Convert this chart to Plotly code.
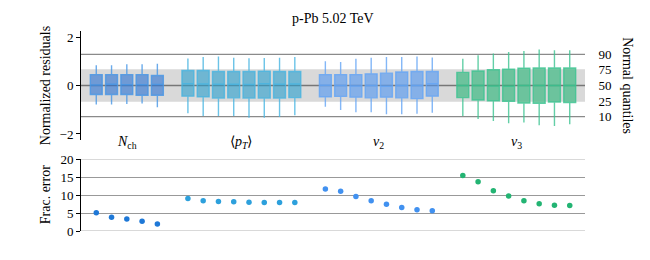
import plotly.graph_objects as go

# ---------------- data ----------------
group_names = ["Nch", "pT", "v2", "v3"]
group_labels = ["<i>N</i><sub>ch</sub>", "⟨<i>p</i><sub><i>T</i></sub>⟩",
                "<i>v</i><sub>2</sub>", "<i>v</i><sub>3</sub>"]
group_pos = [[0, 1, 2, 3, 4],
             [6, 7, 8, 9, 10, 11, 12, 13],
             [15, 16, 17, 18, 19, 20, 21, 22],
             [24, 25, 26, 27, 28, 29, 30, 31]]

nch_q1 = [-0.37, -0.37, -0.37, -0.40, -0.40]
nch_med = [0.02, 0.05, 0.03, 0.03, 0.04]
nch_q3 = [0.45, 0.45, 0.45, 0.45, 0.41]
nch_lo = [-0.78, -0.78, -0.76, -0.74, -0.90]
nch_hi = [0.84, 0.84, 0.88, 0.88, 0.90]

pt_q1 = [-0.44, -0.47, -0.52, -0.51, -0.52, -0.52, -0.52, -0.50]
pt_med = [0.07, 0.06, 0.05, 0.05, 0.04, 0.07, 0.05, 0.06]
pt_q3 = [0.62, 0.62, 0.58, 0.58, 0.58, 0.59, 0.58, 0.58]
pt_lo = [-1.15, -1.26, -1.26, -1.26, -1.33, -1.33, -1.30, -1.23]
pt_hi = [1.11, 1.18, 1.20, 1.15, 1.13, 1.14, 1.15, 1.18]

v2_q1 = [-0.47, -0.45, -0.48, -0.51, -0.48, -0.51, -0.54, -0.44]
v2_med = [0.01, 0.00, -0.02, 0.00, -0.03, 0.00, 0.00, 0.07]
v2_q3 = [0.45, 0.45, 0.45, 0.48, 0.51, 0.56, 0.58, 0.58]
v2_lo = [-0.88, -1.01, -1.10, -1.10, -1.19, -1.19, -1.17, -1.13]
v2_hi = [1.00, 0.97, 1.10, 1.15, 1.18, 1.18, 1.20, 1.16]

v3_q1 = [-0.50, -0.60, -0.63, -0.65, -0.72, -0.73, -0.68, -0.70]
v3_med = [0.00, 0.00, -0.02, -0.03, 0.00, 0.00, 0.00, 0.00]
v3_q3 = [0.54, 0.60, 0.65, 0.67, 0.71, 0.72, 0.72, 0.72]
v3_lo = [-1.26, -1.38, -1.47, -1.56, -1.53, -1.64, -1.67, -1.60]
v3_hi = [1.10, 1.25, 1.32, 1.38, 1.42, 1.49, 1.46, 1.46]

nch_err = [5.1, 3.8, 3.3, 2.7, 1.95]
pt_err = [9.0, 8.4, 8.2, 8.1, 8.0, 7.9, 7.9, 7.9]
v2_err = [11.7, 11.05, 9.6, 8.4, 7.4, 6.5, 5.9, 5.65]
v3_err = [15.4, 13.7, 11.2, 9.75, 8.4, 7.6, 7.15, 7.05]

quantile_z = [1.2816, 0.6745, 0.0, -0.6745, -1.2816]
quantile_lbl = ["90", "75", "50", "25", "10"]
frac_ticks = [0, 5, 10, 15, 20]
resid_ticks = [-2, 0, 2]
resid_tick_lbl = ["−2", "0", "2"]

# ---------------- style ----------------
box_rgb = [(45, 115, 210), (45, 160, 205), (80, 150, 240), (40, 180, 120)]
wh_rgb = [(70, 150, 230), (70, 180, 225), (100, 165, 245), (60, 195, 145)]
pt_rgb = [(30, 120, 215), (45, 160, 220), (65, 145, 240), (35, 180, 115)]
FONT = "Liberation Serif, Times New Roman, serif"

box_data = [
    (nch_q1, nch_med, nch_q3, nch_lo, nch_hi),
    (pt_q1, pt_med, pt_q3, pt_lo, pt_hi),
    (v2_q1, v2_med, v2_q3, v2_lo, v2_hi),
    (v3_q1, v3_med, v3_q3, v3_lo, v3_hi),
]
err_data = [nch_err, pt_err, v2_err, v3_err]

fig = go.Figure()

for i, (q1, med, q3, lo, hi) in enumerate(box_data):
    r, g, b = box_rgb[i]
    wr, wg, wb = wh_rgb[i]
    fig.add_trace(go.Box(
        x=group_pos[i], q1=q1, median=med, q3=q3,
        lowerfence=lo, upperfence=hi,
        width=0.78, boxpoints=False,
        fillcolor=f"rgba({r},{g},{b},0.62)",
        line=dict(color=f"rgba({wr},{wg},{wb},0.8)", width=1.4),
        whiskerwidth=0,
        xaxis="x", yaxis="y", showlegend=False, name=group_names[i],
    ))

for i, err in enumerate(err_data):
    r, g, b = pt_rgb[i]
    fig.add_trace(go.Scatter(
        x=group_pos[i], y=err, mode="markers",
        marker=dict(color=f"rgb({r},{g},{b})", size=5.5),
        xaxis="x2", yaxis="y2", showlegend=False, name=group_names[i],
    ))

# invisible trace for right axis
fig.add_trace(go.Scatter(x=[None], y=[None], xaxis="x", yaxis="y3",
                         showlegend=False, hoverinfo="skip"))

tickfont = dict(family=FONT, size=13, color="black")

fig.update_layout(
    width=634, height=244,
    margin=dict(l=73, r=57, t=23, b=21, autoexpand=False),
    paper_bgcolor="white", plot_bgcolor="rgba(0,0,0,0)",
    font=dict(family=FONT, size=13, color="black"),
    xaxis=dict(domain=[0, 1], range=[-1, 32], visible=False, automargin=False),
    xaxis2=dict(domain=[0, 1], range=[-1, 32], visible=False, anchor="y2",
                automargin=False),
    yaxis=dict(domain=[0.455, 1], range=[-2.25, 2.25], automargin=False,
               tickvals=resid_ticks, ticktext=resid_tick_lbl,
               showline=True, linecolor="black", linewidth=1,
               ticks="outside", ticklen=4, tickcolor="black",
               showgrid=False, zeroline=False, tickfont=tickfont),
    yaxis3=dict(overlaying="y", side="right", range=[-2.25, 2.25],
                automargin=False,
                tickvals=quantile_z, ticktext=quantile_lbl,
                showline=False, showgrid=False, zeroline=False,
                ticks="outside", ticklen=10, tickcolor="rgba(0,0,0,0)",
                tickfont=tickfont, anchor="x"),
    yaxis2=dict(domain=[0, 0.36], range=[0, 20], anchor="x2", automargin=False,
                tickvals=frac_ticks,
                showline=True, linecolor="black", linewidth=1,
                ticks="outside", ticklen=4, tickcolor="black",
                showgrid=True, gridcolor="#999999", gridwidth=1.2,
                zeroline=False, tickfont=tickfont),
)

shapes = [
    dict(type="rect", xref="x domain", yref="y", x0=0, x1=1,
         y0=quantile_z[3], y1=quantile_z[1], fillcolor="#d9d9d9",
         line=dict(width=0), layer="below"),
]
for z in (quantile_z[0], quantile_z[4]):
    shapes.append(dict(type="line", xref="x domain", yref="y", x0=0, x1=1,
                       y0=z, y1=z, line=dict(color="#8a8a8a", width=1.3),
                       layer="below"))
shapes.append(dict(type="line", xref="x domain", yref="y", x0=0, x1=1,
                   y0=0, y1=0, line=dict(color="#777777", width=1.3),
                   layer="below"))
for yv in (frac_ticks[0], frac_ticks[-1]):
    shapes.append(dict(type="line", xref="x2 domain", yref="y2", x0=0, x1=1,
                       y0=yv, y1=yv, line=dict(color="#cccccc", width=1.5),
                       layer="above"))
fig.update_layout(shapes=shapes)

annotations = [
    dict(text="p-Pb 5.02 TeV", xref="paper", yref="paper", x=0.5, y=1.065,
         showarrow=False, font=dict(family=FONT, size=14), xanchor="center",
         yanchor="middle"),
    dict(text="Normalized residuals", xref="paper", yref="paper", x=-0.071,
         y=0.725, textangle=-90, showarrow=False, font=dict(family=FONT, size=14),
         xanchor="center", yanchor="middle"),
    dict(text="Frac. error", xref="paper", yref="paper", x=-0.071,
         y=0.18, textangle=-90, showarrow=False, font=dict(family=FONT, size=14),
         xanchor="center", yanchor="middle"),
    dict(text="Normal quantiles", xref="paper", yref="paper", x=1.085,
         y=0.725, textangle=90, showarrow=False, font=dict(family=FONT, size=14),
         xanchor="center", yanchor="middle"),
]
for i, lbl in enumerate(group_labels):
    cx = sum(group_pos[i]) / len(group_pos[i])
    annotations.append(dict(text=lbl, xref="x", yref="paper", x=cx, y=0.445,
                            showarrow=False, font=dict(family=FONT, size=14),
                            xanchor="center", yanchor="middle"))
fig.update_layout(annotations=annotations)

fig.write_html("out.html")
